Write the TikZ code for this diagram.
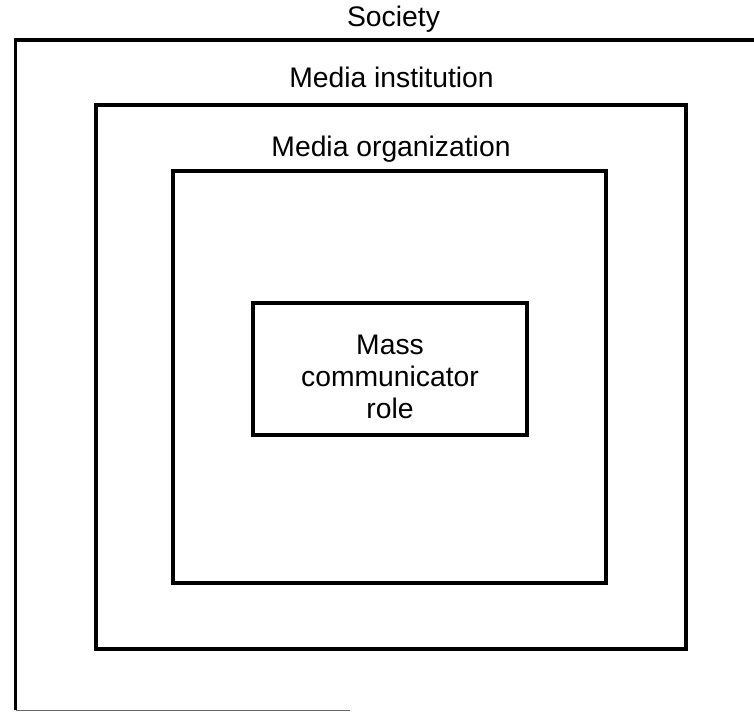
\documentclass[tikz,border=0pt]{standalone}
\usepackage{fontspec}
\setmainfont{Liberation Sans}
\begin{document}
\begin{tikzpicture}[x=1pt,y=-1pt,
  frame/.style={draw=black,line width=3.2pt},
  lbl/.style={inner sep=0pt,font=\fontsize{28.3}{29}\selectfont,anchor=base}]
\useasboundingbox (0,0) rectangle (754,712);
% outer (Society) frame, open on the right
\coordinate (soTR) at (754,40);
\coordinate (soTL) at (15.5,40);
\coordinate (soBL) at (15.5,710);
\coordinate (soBR) at (350,710);
\draw[line width=3.2pt] (soTR) -- (soTL) -- (soBL);
\draw[line width=1pt,black!60] (soBL) -- (soBR);
% frames
\node[frame,minimum width=590pt,minimum height=544pt,inner sep=0pt] (inst) at (391,377) {};
\node[frame,minimum width=433pt,minimum height=412pt,inner sep=0pt] (org) at (389.5,377) {};
\node[frame,minimum width=274pt,minimum height=132pt,inner sep=0pt] (role) at (390,369) {};
% labels
\node[lbl] (lsoc) at (393.5,27) {Society};
\node[lbl] (linst) at (391.5,87) {Media institution};
\node[lbl] (lorg) at (391,156) {Media organization};
\node[lbl] (lmass) at (390,354) {Mass};
\node[lbl] (lcomm) at (390,386) {communicator};
\node[lbl] (lr) at (390,418) {role};
\end{tikzpicture}
\end{document}
